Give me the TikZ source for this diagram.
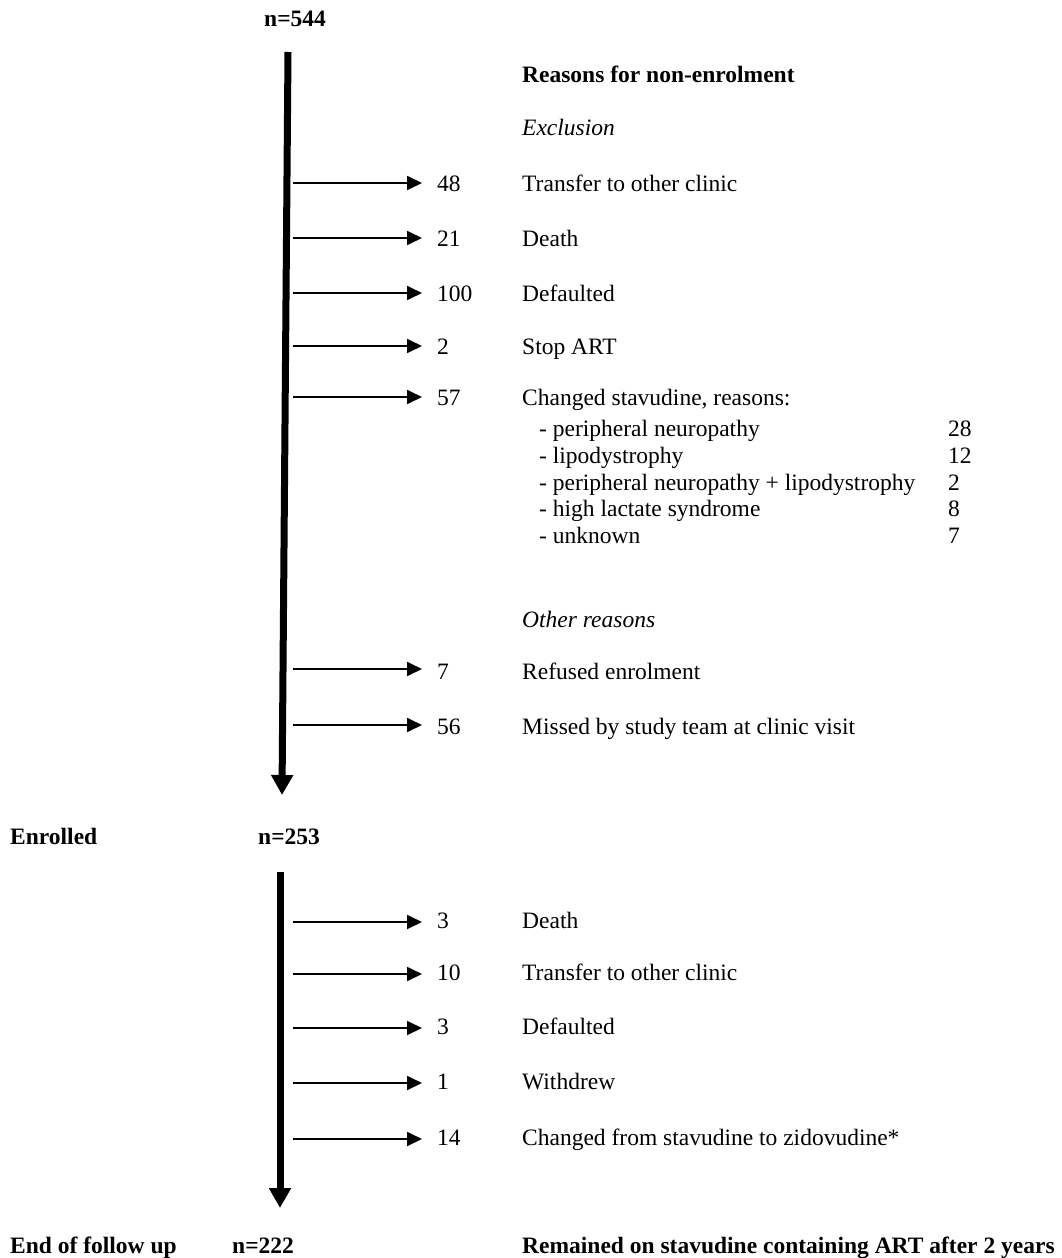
\documentclass[tikz,border=0pt]{standalone}
\usepackage{fontspec}
\setmainfont{Liberation Serif}
\usetikzlibrary{arrows.meta}
\begin{document}
\begin{tikzpicture}[x=1pt,y=-1pt,
  txt/.style={anchor=base west,inner sep=0pt,font=\fontsize{23.5}{28}\selectfont},
  boldtxt/.style={txt,font=\fontsize{23.5}{28}\selectfont\bfseries},
  italtxt/.style={txt,font=\fontsize{23.5}{28}\selectfont\itshape},
  mainline/.style={line width=7pt,-{Triangle[length=20pt,width=21pt]}},
  exitarrow/.style={line width=1.8pt,-{Triangle[length=15pt,width=14pt]},shorten >=15pt}
]
\useasboundingbox (0,0) rectangle (1061,1258);

% headings and counts
\node[boldtxt] (n544) at (264,27) {n=544};
\node[boldtxt] (reasons) at (522,82) {Reasons for non-enrolment};
\node[italtxt] (excl) at (522,135) {Exclusion};
\node[italtxt] (other) at (522,627) {Other reasons};
\node[boldtxt] (enrolled) at (10,844) {Enrolled};
\node[boldtxt] (n253) at (258,844) {n=253};
\node[boldtxt] (endfu) at (10,1253) {End of follow up};
\node[boldtxt] (n222) at (232,1253) {n=222};
\node[boldtxt] (remained) at (522,1253) {Remained on stavudine containing ART after 2 years};

% main flow lines
\coordinate (top1) at (288,52);
\coordinate (bot1) at (282,795);
\coordinate (top2) at (280,872);
\coordinate (bot2) at (280,1208);
\draw[mainline] (top1) -- (bot1);
\draw[mainline] (top2) -- (bot2);

% exits before enrolment
\foreach \ay/\by/\num/\lab [count=\i] in {
  183/191/48/{Transfer to other clinic},
  238/246/21/{Death},
  293/301/100/{Defaulted},
  346/354/2/{Stop ART},
  397/405/57/{Changed stavudine, reasons:},
  669/679/7/{Refused enrolment},
  725/734/56/{Missed by study team at clinic visit}}{
  \coordinate (s\i) at (293,\ay);
  \node[txt] (num\i) at (437,\by) {\num};
  \node[txt] (lab\i) at (522,\by) {\lab};
  \draw[exitarrow] (s\i) -- (s\i -| num\i.west);
}

% reasons for changing stavudine
\foreach \by/\lab/\num [count=\i] in {
  436/{- peripheral neuropathy}/28,
  463/{- lipodystrophy}/12,
  490/{- peripheral neuropathy + lipodystrophy}/2,
  516/{- high lactate syndrome}/8,
  543/{- unknown}/7}{
  \node[txt] (sub\i) at (539,\by) {\lab};
  \node[txt] (subn\i) at (948,\by) {\num};
}

% exits after enrolment
\foreach \ay/\by/\num/\lab [count=\i] in {
  922/928/3/{Death},
  974/980/10/{Transfer to other clinic},
  1028/1034/3/{Defaulted},
  1083/1089/1/{Withdrew},
  1139/1145/14/{Changed from stavudine to zidovudine*}}{
  \coordinate (t\i) at (293,\ay);
  \node[txt] (enum\i) at (437,\by) {\num};
  \node[txt] (elab\i) at (522,\by) {\lab};
  \draw[exitarrow] (t\i) -- (t\i -| enum\i.west);
}
\end{tikzpicture}
\end{document}
